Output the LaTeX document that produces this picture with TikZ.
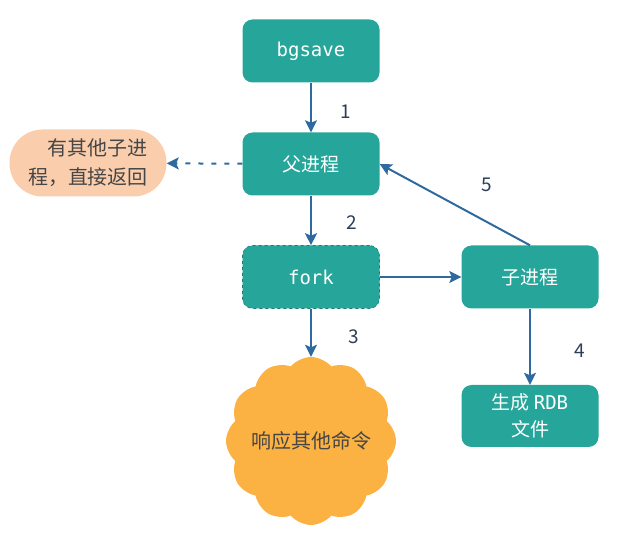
\documentclass[tikz,border=0pt]{standalone}
\usepackage{fontspec}
\setmainfont{Noto Sans CJK SC}
\setmonofont{DejaVu Sans Mono}
\usetikzlibrary{arrows.meta, shapes.symbols}
\definecolor{boxgreen}{RGB}{38,166,154}
\definecolor{linkblue}{RGB}{46,106,160}
\definecolor{peach}{RGB}{250,205,172}
\definecolor{sunny}{RGB}{251,178,66}
\definecolor{numgray}{RGB}{44,62,90}
\definecolor{textgray}{RGB}{70,70,70}

\tikzset{
	stepbox/.style={fill=boxgreen, rounded corners=10pt, minimum width=137pt,
		minimum height=63pt, inner sep=0pt, text=white, align=center,
		font=\fontsize{19}{27}\selectfont},
	link/.style={draw=linkblue, line width=2pt,
		-{Stealth[length=12pt, width=12pt, inset=2.5pt]}},
	num/.style={text=numgray, font=\fontsize{19}{22}\selectfont},
}

\begin{document}
\begin{tikzpicture}[x=1pt, y=-1pt]
	\useasboundingbox (0,0) rectangle (633,548);
	% boxes
	\node [stepbox] (bgsave) at (311,51) {\ttfamily bgsave};
	\node [stepbox] (parent) at (311,164) {父进程};
	\node [stepbox, draw=boxgreen!75!black, dashed, line width=0.6pt] (fork) at (311,277) {\ttfamily fork};
	\node [stepbox] (child) at (530,277) {子进程};
	\node [stepbox, minimum height=62pt] (rdb) at (530,416) {生成\hspace{4pt}{\ttfamily RDB}\\文件};
	\node [cloud, cloud puffs=12, cloud puff arc=100, aspect=1, fill=sunny,
		minimum width=170pt, minimum height=168pt, inner sep=0pt,
		label={[text=textgray, font=\fontsize{20}{24}\selectfont]center:响应其他命令}]
		(reply) at (311,441) {};
	\node [fill=peach, rounded corners=33pt, minimum width=157pt, minimum height=67pt,
		inner sep=0pt, align=right, text=textgray,
		font=\fontsize{20}{29}\selectfont] (back) at (88,163) {有其他子进\\程，直接返回};
	% connectors
	\draw [link] (bgsave) -- (parent);
	\draw [link] (parent) -- (fork);
	\draw [link] (fork) -- (reply);
	\draw [link] (fork) -- (child);
	\draw [link] (child) -- (rdb);
	\draw [link] (child.north) -- (parent.east);
	\draw [link, dash pattern=on 5pt off 8pt] (parent) -- (back);
	% step numbers
	\node [num] (n1) at (346,112) {1};
	\node [num] (n2) at (352,223) {2};
	\node [num] (n3) at (354,337) {3};
	\node [num] (n4) at (580,351) {4};
	\node [num] (n5) at (487,185) {5};
\end{tikzpicture}
\end{document}
